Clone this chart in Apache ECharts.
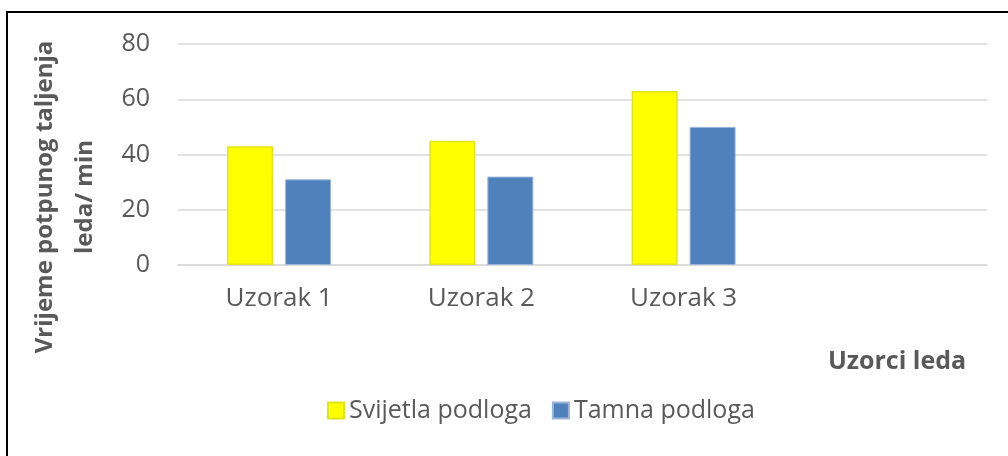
<!DOCTYPE html>
<html><head><meta charset="utf-8">
<script src="https://cdn.jsdelivr.net/npm/echarts@6/dist/echarts.min.js"></script>
<style>html,body{margin:0;padding:0;background:#fff}#c{width:1008px;height:456px}</style>
</head><body><div id="c"></div>
<script>
const categories = ['Uzorak 1', 'Uzorak 2', 'Uzorak 3', ''];
const svijetla = [43, 45, 63, null];
const tamna = [31, 32, 50, null];
const yTicks = [0, 20, 40, 60, 80];

const chart = echarts.init(document.getElementById('c'));
const txt = '#595959';
const font = 'Open Sans';
chart.setOption({
  animation: false,
  textStyle: { fontFamily: font },
  grid: { left: 178, right: 21, top: 44, bottom: 191 },
  legend: {
    data: ['Svijetla podloga', 'Tamna podloga'],
    left: 322, top: 393,
    itemWidth: 16, itemHeight: 16, itemGap: 20,
    icon: 'rect',
    textStyle: { fontSize: 25, color: txt, fontFamily: font, padding: [0, 0, 0, 0] }
  },
  xAxis: {
    type: 'category', data: categories,
    axisLine: { lineStyle: { color: '#d9d9d9', width: 1.5 } },
    axisTick: { show: false },
    axisLabel: { fontSize: 26, color: txt, margin: 21, fontFamily: font }
  },
  yAxis: {
    type: 'value', min: yTicks[0], max: yTicks[yTicks.length - 1], interval: 20,
    axisLine: { show: false }, axisTick: { show: false },
    splitLine: { lineStyle: { color: '#d9d9d9', width: 1.5 } },
    axisLabel: { fontSize: 25, color: txt, margin: 28, fontFamily: font }
  },
  graphic: [
    { type: 'rect', shape: { x: 7, y: 12, width: 1100, height: 500 },
      style: { fill: 'none', stroke: '#000', lineWidth: 2 }, silent: true },
    { type: 'text', x: 65, y: 197, rotation: Math.PI / 2,
      style: { text: 'Vrijeme potpunog taljenja\nleda/ min', fontSize: 24, fontWeight: 'bold',
        fontFamily: font, fill: txt, align: 'center', verticalAlign: 'middle', lineHeight: 40 } },
    { type: 'text', x: 897, y: 362,
      style: { text: 'Uzorci leda', fontSize: 25, fontWeight: 'bold', fontFamily: font,
        fill: txt, align: 'center', verticalAlign: 'middle' } }
  ],
  series: [
    { name: 'Svijetla podloga', type: 'bar', data: svijetla, barWidth: 46, barGap: '26%',
      itemStyle: { color: '#ffff00', borderColor: '#e3e31a', borderWidth: 1.5 } },
    { name: 'Tamna podloga', type: 'bar', data: tamna, barWidth: 46,
      itemStyle: { color: '#4f81bd', borderColor: '#9ab5d9', borderWidth: 1 } }
  ]
});
</script></body></html>
